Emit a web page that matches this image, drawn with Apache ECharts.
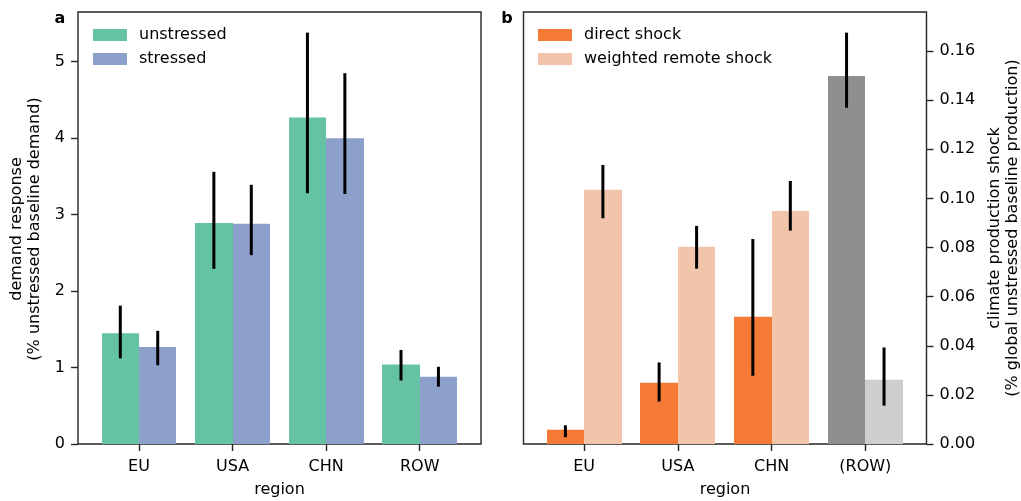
<!DOCTYPE html>
<html>
<head>
<meta charset="utf-8">
<title>Demand response and climate production shock by region</title>
<script src="https://cdn.jsdelivr.net/npm/echarts@6/dist/echarts.min.js"></script>
<style>
  html, body { margin: 0; padding: 0; background: #fff; }
  #chart { width: 1021px; height: 501px; }
</style>
</head>
<body>
<div id="chart"></div>
<script>
// ---- panel a: demand response ----
const regions = ['EU', 'USA', 'CHN', 'ROW'];
const unstressed   = [1.45, 2.89, 4.27, 1.04];
const unstressedLo = [1.12, 2.29, 3.28, 0.83];
const unstressedHi = [1.81, 3.56, 5.38, 1.23];
const stressed     = [1.27, 2.88, 4.00, 0.88];
const stressedLo   = [1.03, 2.47, 3.27, 0.75];
const stressedHi   = [1.48, 3.39, 4.85, 1.01];
const demandTicks  = [0, 1, 2, 3, 4, 5];

// ---- panel b: climate production shock ----
const shockRegions = ['EU', 'USA', 'CHN', '(ROW)'];
const direct     = [0.0058, 0.0249, 0.0518, 0.1498];
const directLo   = [0.0028, 0.0173, 0.0278, 0.1369];
const directHi   = [0.0076, 0.0332, 0.0835, 0.1675];
const remote     = [0.1035, 0.0803, 0.0949, 0.0262];
const remoteLo   = [0.0919, 0.0714, 0.0869, 0.0156];
const remoteHi   = [0.1136, 0.0888, 0.1071, 0.0393];
const shockTicks = [0, 0.02, 0.04, 0.06, 0.08, 0.10, 0.12, 0.14, 0.16];

const FONT = 'DejaVu Sans';
const SPINE = '#262626';
const BAR_W = 0.4;   // width of each bar in category units
const REGION_TICKS = [0, 1, 2, 3];

const C_UNSTRESSED = '#66c2a5';
const C_STRESSED = '#8da0cb';
const C_DIRECT = '#f47a35';
const C_REMOTE = '#f2c5ab';
const C_ROW_DIRECT = '#8f8f8f';
const C_ROW_REMOTE = '#cecece';

// bar drawn to the left (side = -1) or right (side = +1) of its category tick;
// horizontal edges are snapped to whole pixels so paired bars meet without a seam
function barRenderer(side, colorFor) {
  return function (params, api) {
    const x = api.value(0), y = api.value(1);
    const xa = side < 0 ? x - BAR_W : x;
    const xb = side < 0 ? x : x + BAR_W;
    const pTop = api.coord([xa, y]);
    const pBot = api.coord([xb, 0]);
    const x0 = Math.round(pTop[0]), x1 = Math.round(pBot[0]);
    return {
      type: 'rect',
      shape: { x: x0, y: pTop[1], width: x1 - x0, height: pBot[1] - pTop[1] },
      style: { fill: colorFor(params.dataIndex) }
    };
  };
}

function errRenderer(params, api) {
  const x = api.value(0);
  const a = api.coord([x, api.value(1)]);
  const b = api.coord([x, api.value(2)]);
  return {
    type: 'line',
    shape: { x1: a[0], y1: a[1], x2: b[0], y2: b[1] },
    style: { stroke: '#000', lineWidth: 3, lineCap: 'butt' }
  };
}

function xAxisFor(gridIndex, names, min, max) {
  return {
    gridIndex, type: 'value', min, max,
    axisLine: { show: false, onZero: false },
    splitLine: { show: false },
    axisTick: { show: true, customValues: REGION_TICKS, length: 7, lineStyle: { color: SPINE, width: 1.4 } },
    axisLabel: {
      customValues: REGION_TICKS, margin: 15,
      formatter: v => names[Math.round(v)] || '',
      fontFamily: FONT, fontSize: 16, color: '#000'
    }
  };
}

function yAxisFor(gridIndex, position, max, ticks, fmt) {
  return {
    gridIndex, type: 'value', position, min: 0, max,
    axisLine: { show: false, onZero: false },
    splitLine: { show: false },
    axisTick: { show: true, customValues: ticks, length: 7, lineStyle: { color: SPINE, width: 1.4 } },
    axisLabel: { customValues: ticks, margin: 13, fontFamily: FONT, fontSize: 16, color: '#000', formatter: fmt }
  };
}

function legendAt(left, names) {
  return {
    left, top: 27, orient: 'vertical', padding: 0,
    icon: 'rect', itemWidth: 34, itemHeight: 12, itemGap: 8,
    data: names,
    selectedMode: false,
    textStyle: { fontFamily: FONT, fontSize: 16, color: '#000', lineHeight: 16, padding: [0, 0, 0, 7] }
  };
}

const gridStyle = { show: true, borderColor: SPINE, borderWidth: 1.4, backgroundColor: 'transparent' };

const option = {
  animation: false,
  backgroundColor: '#fff',
  grid: [
    Object.assign({ left: 78, top: 12, width: 403, height: 432 }, gridStyle),
    Object.assign({ left: 523.5, top: 12, width: 403, height: 432 }, gridStyle)
  ],
  xAxis: [
    xAxisFor(0, regions, -0.652, 3.655),
    xAxisFor(1, shockRegions, -0.647, 3.653)
  ],
  yAxis: [
    yAxisFor(0, 'left', 5.65, demandTicks, v => String(v)),
    yAxisFor(1, 'right', 0.1759, shockTicks, v => v.toFixed(2))
  ],
  legend: [
    legendAt(93, ['unstressed', 'stressed']),
    legendAt(538, ['direct shock', 'weighted remote shock'])
  ],
  series: [
    {
      name: 'unstressed', type: 'custom', xAxisIndex: 0, yAxisIndex: 0,
      itemStyle: { color: C_UNSTRESSED },
      renderItem: barRenderer(-1, () => C_UNSTRESSED),
      encode: { x: 0, y: 1 },
      data: regions.map((r, i) => [i, unstressed[i]])
    },
    {
      name: 'stressed', type: 'custom', xAxisIndex: 0, yAxisIndex: 0,
      itemStyle: { color: C_STRESSED },
      renderItem: barRenderer(1, () => C_STRESSED),
      encode: { x: 0, y: 1 },
      data: regions.map((r, i) => [i, stressed[i]])
    },
    {
      type: 'custom', xAxisIndex: 0, yAxisIndex: 0, z: 5,
      renderItem: errRenderer, encode: { x: 0, y: [1, 2] },
      data: regions.map((r, i) => [i - BAR_W / 2, unstressedLo[i], unstressedHi[i]])
        .concat(regions.map((r, i) => [i + BAR_W / 2, stressedLo[i], stressedHi[i]]))
    },
    {
      name: 'direct shock', type: 'custom', xAxisIndex: 1, yAxisIndex: 1,
      itemStyle: { color: C_DIRECT },
      renderItem: barRenderer(-1, i => (i === 3 ? C_ROW_DIRECT : C_DIRECT)),
      encode: { x: 0, y: 1 },
      data: shockRegions.map((r, i) => [i, direct[i]])
    },
    {
      name: 'weighted remote shock', type: 'custom', xAxisIndex: 1, yAxisIndex: 1,
      itemStyle: { color: C_REMOTE },
      renderItem: barRenderer(1, i => (i === 3 ? C_ROW_REMOTE : C_REMOTE)),
      encode: { x: 0, y: 1 },
      data: shockRegions.map((r, i) => [i, remote[i]])
    },
    {
      type: 'custom', xAxisIndex: 1, yAxisIndex: 1, z: 5,
      renderItem: errRenderer, encode: { x: 0, y: [1, 2] },
      data: shockRegions.map((r, i) => [i - BAR_W / 2, directLo[i], directHi[i]])
        .concat(shockRegions.map((r, i) => [i + BAR_W / 2, remoteLo[i], remoteHi[i]]))
    }
  ],
  graphic: [
    { type: 'text', x: 60, y: 18.5, style: { text: 'a', font: 'bold 16px "DejaVu Sans"', fill: '#000', textAlign: 'center', textVerticalAlign: 'middle' } },
    { type: 'text', x: 507, y: 18.5, style: { text: 'b', font: 'bold 16px "DejaVu Sans"', fill: '#000', textAlign: 'center', textVerticalAlign: 'middle' } },
    { type: 'text', x: 279.5, y: 490, style: { text: 'region', font: '16px "DejaVu Sans"', fill: '#000', textAlign: 'center', textVerticalAlign: 'middle' } },
    { type: 'text', x: 725, y: 490, style: { text: 'region', font: '16px "DejaVu Sans"', fill: '#000', textAlign: 'center', textVerticalAlign: 'middle' } },
    { type: 'text', x: 26, y: 229, rotation: Math.PI / 2,
      style: { text: 'demand response\n(% unstressed baseline demand)', font: '16px "DejaVu Sans"', lineHeight: 18, fill: '#000', textAlign: 'center', textVerticalAlign: 'middle' } },
    { type: 'text', x: 1004, y: 228, rotation: Math.PI / 2,
      style: { text: 'climate production shock\n(% global unstressed baseline production)', font: '16px "DejaVu Sans"', lineHeight: 18, fill: '#000', textAlign: 'center', textVerticalAlign: 'middle' } }
  ]
};

const chart = echarts.init(document.getElementById('chart'), null, { renderer: 'canvas' });
chart.setOption(option);
</script>
</body>
</html>
